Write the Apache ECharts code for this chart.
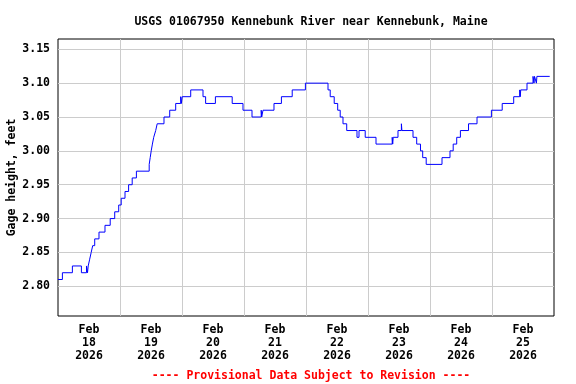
<!DOCTYPE html>
<html>
<head>
<meta charset="utf-8">
<script src="https://cdn.jsdelivr.net/npm/echarts@6/dist/echarts.min.js"></script>
<style>
html,body{margin:0;padding:0;background:#fff;}
#chart{width:576px;height:384px;}
</style>
</head>
<body>
<div id="chart"></div>
<script>
// Time of each reading/change, hours since 2026-02-18 00:00
var timeHours = [
  0, 1.70, 5.57, 9.06, 11.03, 11.42, 11.69, 12.27, 12.85, 13.43, 14.21, 15.87, 18.19, 20.21, 21.95,
  23.50, 24.46, 25.94, 27.33, 28.72, 30.35, 35.30, 35.69, 36.08, 36.54, 37.05, 37.82, 38.40, 41.03,
  43.24, 45.56, 47.50, 47.77, 48.08, 51.37, 56.13, 57.14, 60.93, 67.43, 71.61, 75.10, 78.66, 78.85,
  79.36, 83.61, 86.48, 90.66, 95.77, 104.52, 105.37, 106.92, 108.27, 109.24, 110.32, 111.76, 115.74,
  116.52, 118.92, 123.10, 129.37, 129.56, 129.75, 131.61, 132.93, 133.12, 137.42, 138.85, 140.32,
  141.17, 142.53, 148.65, 151.74, 152.98, 154.34, 155.77, 158.91, 162.20, 167.77, 171.95, 176.40,
  178.73, 178.93, 179.12, 181.55, 183.88, 184.26, 184.46, 185.19, 185.38, 190.34
];
// Gage height, feet
var gageHeight = [
  2.81, 2.82, 2.83, 2.82, 2.83, 2.82, 2.83, 2.84, 2.85, 2.86, 2.87, 2.88, 2.89, 2.90, 2.91,
  2.92, 2.93, 2.94, 2.95, 2.96, 2.97, 2.98, 2.99, 3.00, 3.01, 3.02, 3.03, 3.04, 3.05,
  3.06, 3.07, 3.08, 3.07, 3.08, 3.09, 3.08, 3.07, 3.08, 3.07, 3.06, 3.05, 3.06, 3.05,
  3.06, 3.07, 3.08, 3.09, 3.10, 3.09, 3.08, 3.07, 3.06, 3.05, 3.04, 3.03, 3.02,
  3.03, 3.02, 3.01, 3.02, 3.01, 3.02, 3.03, 3.04, 3.03, 3.02, 3.01, 3.00,
  2.99, 2.98, 2.99, 3.00, 3.01, 3.02, 3.03, 3.04, 3.05, 3.06, 3.07, 3.08,
  3.09, 3.08, 3.09, 3.10, 3.11, 3.10, 3.11, 3.10, 3.11, 3.11
];
var tickMonth = ['Feb', 'Feb', 'Feb', 'Feb', 'Feb', 'Feb', 'Feb', 'Feb'];
var tickDay = ['18', '19', '20', '21', '22', '23', '24', '25'];
var tickYear = ['2026', '2026', '2026', '2026', '2026', '2026', '2026', '2026'];
var titleText = 'USGS 01067950 Kennebunk River near Kennebunk, Maine';
var footerText = '---- Provisional Data Subject to Revision ----';
var yAxisTitle = 'Gage height, feet';

var FONT = '"DejaVu Sans Mono", "Liberation Mono", monospace';
var seriesData = timeHours.map(function (t, i) { return [t, gageHeight[i]]; });

var chart = echarts.init(document.getElementById('chart'), null, {renderer: 'canvas'});
chart.setOption({
  animation: false,
  backgroundColor: '#ffffff',
  title: [
    {text: titleText, left: 306, top: 11, textAlign: 'center',
     textStyle: {fontFamily: FONT, fontWeight: 'bold', fontSize: 11.5, color: '#000'}},
    {text: footerText, left: 306, top: 365, textAlign: 'center',
     textStyle: {fontFamily: FONT, fontWeight: 'bold', fontSize: 11.5, color: '#ff0000'}}
  ],
  grid: {left: 58, top: 39, width: 496, height: 277, show: true, borderColor: '#000', borderWidth: 1,
         backgroundColor: 'transparent', containLabel: false, outerBoundsMode: 'none'},
  xAxis: [
    {type: 'value', min: 0, max: 192, interval: 24, position: 'bottom',
     axisLine: {show: false}, axisTick: {show: false}, axisLabel: {show: false},
     splitLine: {show: true, showMinLine: false, showMaxLine: false, lineStyle: {color: '#cccccc', width: 1}}},
    {type: 'value', min: 0, max: 192, interval: 12, position: 'bottom',
     axisLine: {show: false}, axisTick: {show: false}, splitLine: {show: false},
     axisLabel: {show: true, margin: 8, fontFamily: FONT, fontWeight: 'bold', fontSize: 11.5,
       color: '#000', lineHeight: 13, align: 'center',
       formatter: function (v) {
         if (Math.round(v) % 24 !== 12) return '';
         var d = Math.floor(v / 24);
         return tickMonth[d] + '\n' + tickDay[d] + '\n' + tickYear[d];
       }}}
  ],
  yAxis: {
    type: 'value', min: 2.7561, max: 3.1652, splitNumber: 8, minInterval: 0.05, maxInterval: 0.05,
    name: yAxisTitle, nameLocation: 'middle', nameRotate: 90, nameGap: 40, nameMoveOverlap: false,
    nameTextStyle: {fontFamily: FONT, fontWeight: 'bold', fontSize: 11.5, color: '#000'},
    axisLine: {show: false}, axisTick: {show: false},
    axisLabel: {margin: 8, fontFamily: FONT, fontWeight: 'bold', fontSize: 11.5, color: '#000',
      showMinLabel: false, showMaxLabel: false,
      formatter: function (v) {
        var k = v / 0.05;
        if (Math.abs(k - Math.round(k)) > 1e-6) return '';
        return v.toFixed(2);
      }},
    splitLine: {show: true, showMinLine: false, showMaxLine: false, lineStyle: {color: '#cccccc', width: 1}}
  },
  series: [{
    type: 'line', xAxisIndex: 0, data: seriesData, step: 'end', showSymbol: false, symbol: 'none',
    lineStyle: {color: '#0000ff', width: 1}, silent: true
  }]
});
</script>
</body>
</html>
